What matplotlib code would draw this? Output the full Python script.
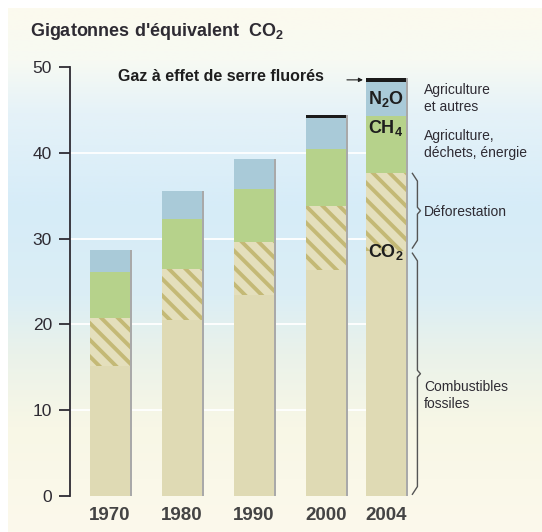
import numpy as np
import matplotlib
matplotlib.use("Agg")
import matplotlib.pyplot as plt
from matplotlib.colors import LinearSegmentedColormap

# data (Gt CO2-eq)
years = ["1970", "1980", "1990", "2000", "2004"]
fossil = [15.1, 20.5, 23.4, 26.3, 28.6]      # CO2 combustibles fossiles
deforest = [5.6, 6.0, 6.2, 7.5, 9.1]         # CO2 deforestation
ch4 = [5.4, 5.8, 6.2, 6.7, 6.6]
n2o = [2.6, 3.2, 3.5, 3.5, 4.0]
fgas = [0.0, 0.0, 0.0, 0.4, 0.4]
xpos = [0, 1, 2, 3, 3.83]

plt.rcParams["font.family"] = ["Liberation Sans", "DejaVu Sans"]
plt.rcParams["mathtext.fontset"] = "custom"
plt.rcParams["mathtext.rm"] = "Liberation Sans"
plt.rcParams["mathtext.bf"] = "Liberation Sans:bold"
txt = "#2e2b33"

fig = plt.figure(figsize=(5.42, 5.32), dpi=100)

# background gradient
bg = fig.add_axes([8 / 542, 0, 534 / 542, 1 - 8 / 532])
stops = [(0.0, "#fcfaee"), (0.10, "#f7faf3"), (0.2, "#e5f2f8"), (0.38, "#d6ecf8"),
         (0.55, "#dbeef5"), (0.66, "#eaf2ea"), (0.8, "#f8f7e6"), (1.0, "#fcf9ec")]
cmap = LinearSegmentedColormap.from_list("bg", stops)
bg.imshow(np.linspace(0, 1, 256).reshape(-1, 1), cmap=cmap, aspect="auto",
          extent=[0, 1, 1, 0])
bg.set_axis_off()

ax = fig.add_axes([70 / 542, 36 / 532, 472 / 542, 429 / 532])
ax.set_facecolor("none")
ax.set_xlim(-0.555, 6.0)
ax.set_ylim(0, 50)

# white gridlines behind the bars
for g in [10, 20, 30, 40]:
    ax.hlines(g, -0.555, 3.55, color="white", lw=1.3, zorder=0)

w = 0.555
x = np.array(xpos)
fossil = np.array(fossil)
deforest = np.array(deforest)
ch4 = np.array(ch4)
n2o = np.array(n2o)
fgas = np.array(fgas)
total = fossil + deforest + ch4 + n2o + fgas

# shadow on the right edge
ax.bar(x + 0.035, total, w, color="#a9a9a9", zorder=1)

plt.rcParams["hatch.linewidth"] = 2.8
ax.bar(x, fossil, w, color="#dfdab4", zorder=2)
ax.bar(x, deforest, w, bottom=fossil, facecolor="#e4dfbc", edgecolor="#c4b976",
       hatch="\\\\", lw=0, zorder=2)
ax.bar(x, ch4, w, bottom=fossil + deforest, color="#b6d28b", zorder=2)
ax.bar(x, n2o, w, bottom=fossil + deforest + ch4, color="#a9cad8", zorder=2)
ax.bar(x, fgas, w, bottom=fossil + deforest + ch4 + n2o, color="#1a1a1a", zorder=2)

# axes styling
for s in ["top", "right", "bottom"]:
    ax.spines[s].set_visible(False)
ax.spines["left"].set_color(txt)
ax.spines["left"].set_linewidth(1.3)
ax.set_yticks([0, 10, 20, 30, 40, 50])
ax.tick_params(axis="y", length=8, width=1.3, color=txt, labelsize=12.5,
               labelcolor=txt, pad=5)
ax.set_xticks(x, years)
ax.tick_params(axis="x", length=0, labelsize=13.5, labelcolor="#444444", pad=8)
for lab in ax.get_xticklabels():
    lab.set_fontweight("bold")

fig.text(30 / 542, 1 - 32 / 532, r"Gigatonnes d'équivalent  CO$\mathbf{_2}$",
         fontsize=13, fontweight="bold", color=txt, va="center", ha="left")

# labels inside the 2004 bar
i = 4
lab_kw = dict(ha="center", va="center", fontsize=13, fontweight="bold",
              color="#1e1e1e", zorder=5)
ax.text(x[i], fossil[i] + deforest[i] + ch4[i] + n2o[i] / 2, r"N$\mathbf{_2}$O", **lab_kw)
ax.text(x[i], fossil[i] + deforest[i] + ch4[i] - 1.4, r"CH$\mathbf{_4}$", **lab_kw)
ax.text(x[i], fossil[i] - 0.2, r"CO$\mathbf{_2}$", **lab_kw)

# fluorinated gases label + arrow
ax.text(0.11, total[i] + 0.15, "Gaz à effet de serre fluorés", ha="left", va="center",
        fontsize=11.5, fontweight="bold", color="#1e1e1e")
ax.annotate("", xy=(x[i] - w / 2, total[i] - fgas[i] / 2),
            xytext=(x[i] - w / 2 - 0.3, total[i] - fgas[i] / 2),
            arrowprops=dict(arrowstyle="-|>", color="#1e1e1e", lw=0.8,
                            mutation_scale=6))

# right side descriptions
xt = 4.36
side_kw = dict(fontsize=10, color=txt, va="center", ha="left", linespacing=1.3)
ax.text(xt, total[i] - fgas[i] - n2o[i] / 2, "Agriculture\net autres", **side_kw)
ax.text(xt, fossil[i] + deforest[i] + ch4[i] / 2, "Agriculture,\ndéchets, énergie", **side_kw)
ax.text(xt, fossil[i] + deforest[i] / 2, "Déforestation", **side_kw)
ax.text(xt, fossil[i] * 0.41, "Combustibles\nfossiles", **side_kw)


def brace(y0, y1, xb=4.27, dx=0.07):
    ym = (y0 + y1) / 2
    h = 0.9
    xs = [xb - dx, xb, xb, xb + dx * 0.6, xb, xb, xb - dx]
    ys = [y1, y1 - h, ym + 0.4, ym, ym - 0.4, y0 + h, y0]
    ax.plot(xs, ys, color="#555555", lw=1.0, solid_joinstyle="round", clip_on=False)


brace(fossil[i] + 0.3, fossil[i] + deforest[i] - 0.1)
brace(0.2, fossil[i] - 0.3)

fig.savefig("out.png", dpi=100)
